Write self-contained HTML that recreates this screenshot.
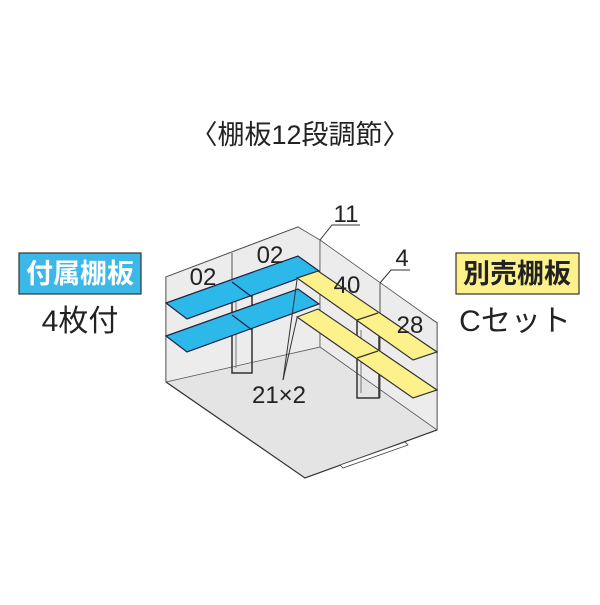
<!DOCTYPE html>
<html><head><meta charset="utf-8"><style>
body{margin:0;background:#fff;width:600px;height:600px;overflow:hidden}
</style></head><body>
<svg width="600" height="600" viewBox="0 0 600 600" xmlns="http://www.w3.org/2000/svg" font-family="Liberation Sans, Noto Sans CJK JP, sans-serif">
<text x="300" y="144" font-size="27" text-anchor="middle" fill="#222">〈棚板12段調節〉</text>
<!-- box -->
<polygon points="166,277 298,227 437,323 437,430 305,478 166,382" fill="#e4e4e5" stroke="#333" stroke-width="1.2"/>
<polygon points="166,277 298,227 320,240 320,347 166,382" fill="#ececed" stroke="#555" stroke-width="0.8"/>
<polygon points="320,240 437,323 437,430 320,347" fill="#ececed" stroke="#555" stroke-width="0.8"/>
<line x1="232" y1="253" x2="232" y2="373" stroke="#555"/>
<line x1="380" y1="283" x2="380" y2="398" stroke="#555"/>
<!-- door threshold -->
<polygon points="340,465 405,442 408,445 343,468" fill="#fff" stroke="#444" stroke-width="0.8"/>
<!-- posts -->
<rect x="232" y="285" width="20" height="88" fill="none" stroke="#333" stroke-width="1.5"/>
<line x1="236" y1="300" x2="236" y2="368" stroke="#777" stroke-width="1"/>
<rect x="357" y="318" width="22" height="80" fill="none" stroke="#333" stroke-width="1.5"/>
<line x1="361" y1="330" x2="361" y2="393" stroke="#777" stroke-width="1"/>
<!-- blue shelves -->
<g fill="#2db8ea" stroke="#224" stroke-width="1.2">
<polygon points="166,303 187,319 319,271 298,256"/>
<polygon points="166,336 187,352 319,304 298,289"/>
</g>
<g stroke="#224" stroke-width="1.2">
<line x1="232" y1="282" x2="252" y2="297"/>
<line x1="232" y1="315" x2="252" y2="330"/>
</g>
<!-- yellow shelves -->
<g fill="#fdf18c" stroke="#333" stroke-width="1.2">
<polygon points="297,278 318,271 437,352 413,360"/>
<polygon points="297,317 318,309 437,390 413,398"/>
</g>
<g stroke="#333" stroke-width="1.2">
<line x1="357" y1="320" x2="378" y2="313"/>
<line x1="357" y1="358" x2="378" y2="351"/>
</g>
<!-- leaders -->
<g stroke="#333" stroke-width="1" fill="none">
<polyline points="360,225 332,225 320,240"/>
<polyline points="410,270 391,270 380,283"/>
<line x1="283" y1="380" x2="297" y2="280"/>
<line x1="283" y1="380" x2="297" y2="318"/>
</g>
<g font-size="24" fill="#222" text-anchor="middle">
<text x="203" y="285">02</text>
<text x="270" y="263">02</text>
<text x="346" y="222">11</text>
<text x="402" y="266">4</text>
<text x="347" y="293">40</text>
<text x="410" y="333">28</text>
<text x="279" y="403">21×2</text>
</g>
<rect x="19" y="253" width="122" height="41" fill="#3bb8e8" stroke="#333" stroke-width="1.2"/>
<text x="80" y="283" font-size="27" fill="#fff" text-anchor="middle" font-weight="bold">付属棚板</text>
<text x="80" y="331" font-size="30" fill="#222" text-anchor="middle">4枚付</text>
<rect x="456" y="253" width="123" height="41" fill="#fdf18c" stroke="#333" stroke-width="1.2"/>
<text x="517" y="283" font-size="27" fill="#222" text-anchor="middle" font-weight="bold">別売棚板</text>
<text x="515" y="331" font-size="30" fill="#222" text-anchor="middle">Cセット</text>
</svg>
</body></html>
